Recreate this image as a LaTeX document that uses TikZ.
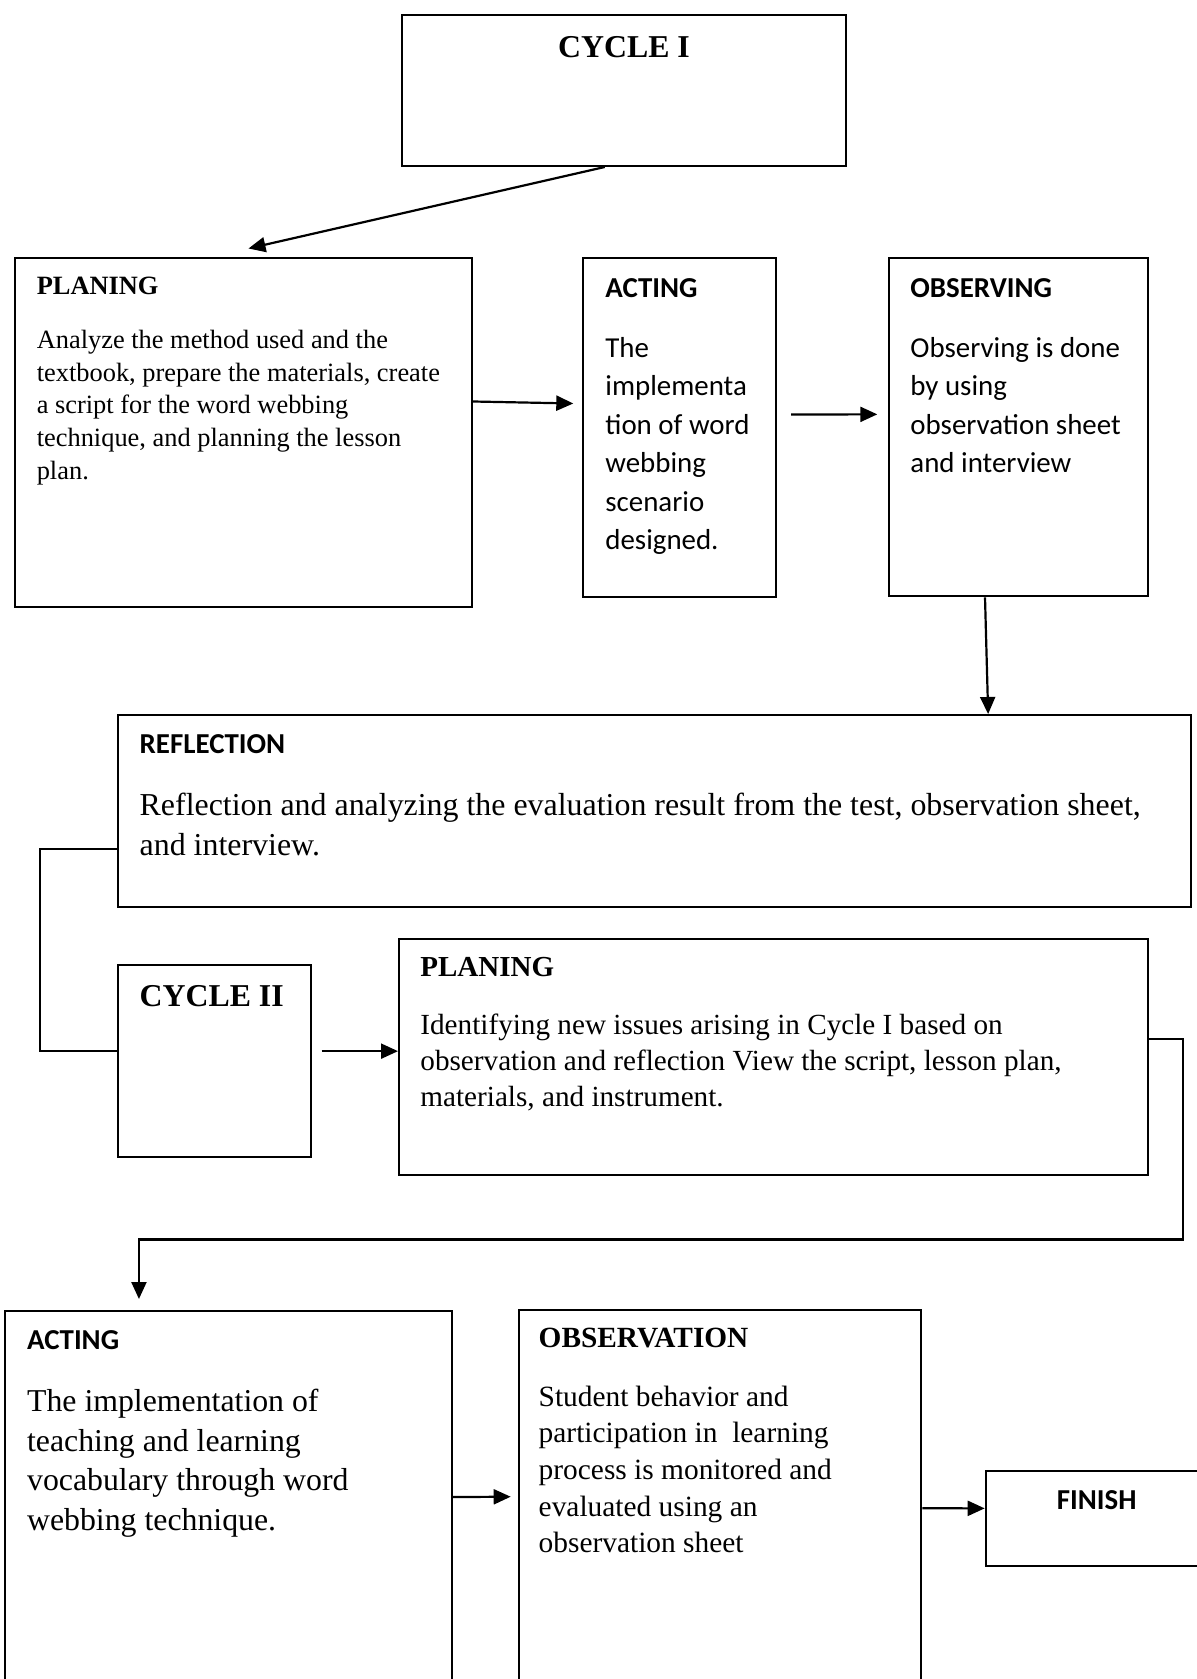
\documentclass[tikz,border=0pt]{standalone}
\usepackage{fontspec}
\setmainfont{Liberation Serif}
\newfontfamily\calibri{Carlito}
\usetikzlibrary{arrows.meta,calc,fit}
\newcommand\fsz[2]{\fontsize{#1}{#2}\selectfont}

\begin{document}
\begin{tikzpicture}[x=0.5pt,y=-0.5pt,
    panel/.style={draw, line width=1pt, inner sep=0pt},
    arr/.style={line width=1.1pt, -{Triangle[length=8.5pt,width=7.5pt]}},
    wire/.style={line width=1pt},
    txt/.style={anchor=base west, align=left, inner sep=0pt}]
    % page frame (pixel units, y downwards)
    \useasboundingbox (0,0) rectangle (1197,1679);
    \clip (0,0) rectangle (1197,1679);

    % cycle I boxes
    \node[panel, fit={(401.5,15) (846,166)}] (c1) {};
    \node[panel, fit={(15,258) (472,607)}] (p1) {};
    \node[panel, fit={(583.3,258.3) (776,596.7)}] (a1) {};
    \node[panel, fit={(889,258.3) (1148,596.4)}] (o1) {};
    \node[panel, fit={(117.7,715) (1190.6,907.3)}] (r1) {};

    % cycle II boxes (bottom ones run off the page)
    \node[panel, fit={(117.7,965) (310.7,1157.3)}] (c2) {};
    \node[panel, fit={(399,939.3) (1147.8,1175)}] (p2) {};
    \node[panel, fit={(5,1310.7) (451.7,1720)}] (a2) {};
    \node[panel, fit={(519.3,1310) (921.4,1720)}] (ob) {};
    \node[panel, fit={(985.7,1471) (1210,1565.7)}] (fin) {};

    % headings
    \node[anchor=base, inner sep=0pt, font=\bfseries\fsz{15.9}{18}] (c1t) at (624,57.6) {CYCLE I};
    \node[txt, font=\bfseries\fsz{13.2}{16}] (p1t) at (36.4,294.3) {PLANING};
    \node[txt, font=\calibri\bfseries\fsz{14.45}{17}] (a1t) at (605,297.3) {ACTING};
    \node[txt, font=\calibri\bfseries\fsz{14.45}{17}] (o1t) at (910,297.3) {OBSERVING};
    \node[txt, font=\calibri\bfseries\fsz{14.45}{17}] (r1t) at (139.3,753.3) {REFLECTION};
    \node[txt, font=\bfseries\fsz{15.9}{18}] (c2t) at (139.3,1006) {CYCLE II};
    \node[txt, font=\bfseries\fsz{14.5}{17}] (p2t) at (420,976.5) {PLANING};
    \node[txt, font=\calibri\bfseries\fsz{14.45}{17}] (a2t) at (26.7,1349.3) {ACTING};
    \node[txt, font=\bfseries\fsz{14.66}{17}] (obt) at (538.3,1347.7) {OBSERVATION};
    \node[anchor=base, inner sep=0pt, font=\calibri\bfseries\fsz{14.45}{17}] (fint) at (1096.7,1509.3) {FINISH};

    % body texts (placed by the baseline of their last line)
    \node[txt, font=\fsz{13.2}{16.4}] (p1b) at (36.4,479.5)
        {Analyze the method used and the\\ textbook, prepare the materials, create\\
         a script for the word webbing\\ technique, and planning the lesson\\ plan.};
    \node[txt, font=\calibri\fsz{14.45}{19.25}] (a1b) at (605,549.8)
        {The\\ implementa\\ tion of word\\ webbing\\ scenario\\ designed.};
    \node[txt, font=\calibri\fsz{14.45}{19.25}] (o1b) at (910,472.8)
        {Observing is done\\ by using\\ observation sheet\\ and interview};
    \node[txt, font=\fsz{15.95}{20}] (r1b) at (139.3,855)
        {Reflection and analyzing the evaluation result from the test, observation sheet,\\ and interview.};
    \node[txt, font=\fsz{14.6}{18}] (p2b) at (420,1106)
        {Identifying new issues arising in Cycle I based on\\
         observation and reflection View the script, lesson plan,\\ materials, and instrument.};
    \node[txt, font=\fsz{15.9}{19.75}] (a2b) at (26.7,1530.2)
        {The implementation of\\ teaching and learning\\ vocabulary through word\\ webbing technique.};
    \node[txt, font=\fsz{14.7}{18.35}] (obb) at (538.3,1552.8)
        {Student behavior and\\ participation in\ \ learning\\ process is monitored and\\
         evaluated using an\\ observation sheet};

    % arrows of cycle I
    \draw[arr] ($(c1.south)+(-19,0)$) -- ($(p1.north)+(5,-8.5)$);
    \draw[arr] ($(p1.east)+(0,-31)$) -- ($(a1.west)+(-9,-24)$);
    \draw[arr] ($(a1.east)+(14,-13)$) -- ($(o1.west)+(-10.7,-13)$);
    \draw[arr] ($(o1.south)+(-33.5,0)$) -- ($(r1.north)+(334,0)$);

    % elbow from reflection into cycle II
    \draw[wire] ($(r1.west)+(0,38)$) -- ++(-77,0) |- ($(c2.west)+(0,-10)$);
    \draw[arr] ($(c2.east)+(10,-10)$) -- ($(p2.west)+(0,-6)$);

    % elbow from planing down to acting
    \draw[arr] ($(p2.east)+(0,-18)$) -- ++(34,0) -- ++(0,200.4) -| ($(a2.north)+(-89.4,-10.7)$);

    % arrows of cycle II
    \draw[arr] ($(a2.east)+(0,-18.3)$) -- ($(ob.west)+(-7.6,-18.3)$);
    \draw[arr] ($(ob.east)+(0,-6.7)$) -- ($(fin.west)+(0,-10)$);
\end{tikzpicture}
\end{document}
